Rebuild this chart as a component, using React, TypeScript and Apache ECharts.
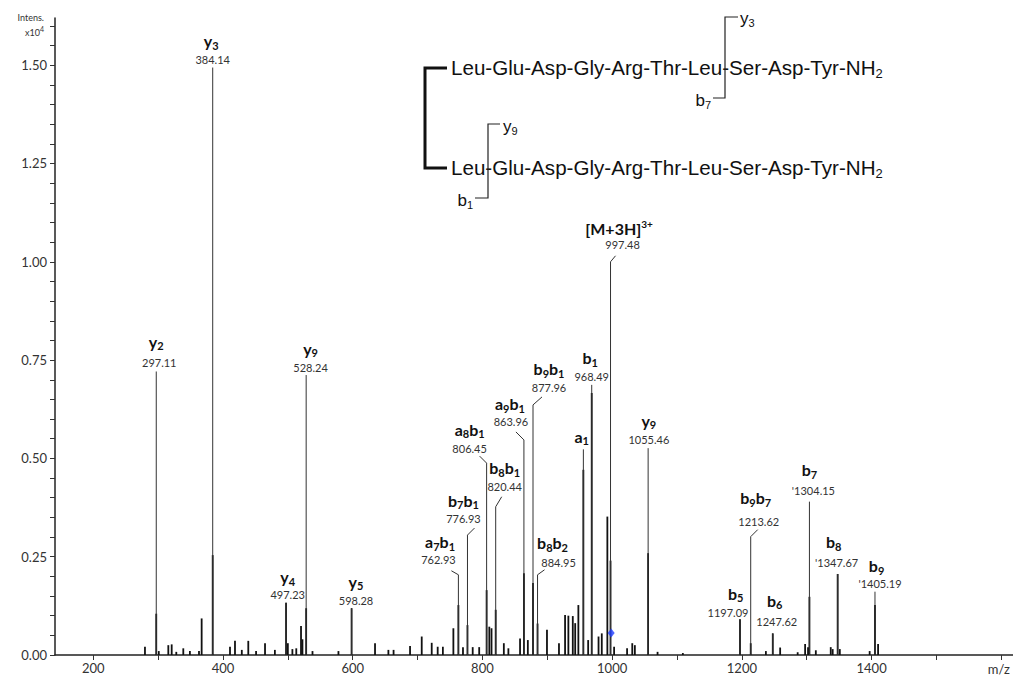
import { useEffect, useRef } from 'react';
import * as echarts from 'echarts';

// ---- axis ticks / labels ----
const xTickValues = [200, 300, 400, 500, 600, 700, 800, 900, 1000, 1100, 1200, 1300, 1400, 1500, 1600];
const xLabelValues = [200, 400, 600, 800, 1000, 1200, 1400];
const yTickValues = [0, 0.05, 0.1, 0.15, 0.2, 0.25, 0.3, 0.35, 0.4, 0.45, 0.5, 0.55, 0.6, 0.65, 0.7, 0.75, 0.8, 0.85, 0.9, 0.95, 1.0, 1.05, 1.1, 1.15, 1.2, 1.25, 1.3, 1.35, 1.4, 1.45, 1.5, 1.55, 1.6];
const yLabelValues = [0, 0.25, 0.5, 0.75, 1.0, 1.25, 1.5];

// ---- spectrum peaks: m/z and intensity (x10^4) ----
const peakMz = [279.7, 297.11, 301, 315.7, 320.9, 328, 338.8, 349, 363, 367.1, 384.14, 410.8, 418.5, 429, 439, 451, 464.8, 480, 497.23, 500, 507, 513, 520.3, 522.5, 528.24, 538, 578, 598.28, 634.4, 655, 663, 688.4, 706.4, 721.8, 731, 739, 755.2, 762.93, 770, 776.93, 785, 795, 806.45, 810.6, 814, 820.44, 833, 840, 858, 863.96, 870, 877.96, 884.95, 899.5, 918, 927.4, 932.5, 939.3, 943, 947.9, 955.6, 963, 968.49, 979, 984, 992.6, 997.48, 1003, 1023, 1031, 1035, 1055.46, 1070, 1109, 1197.09, 1213.62, 1237, 1247.62, 1259, 1286, 1297.5, 1302, 1304.15, 1314, 1337, 1340, 1347.67, 1351, 1397, 1405.19, 1410];
const peakIntensity = [0.021, 0.105, 0.01, 0.025, 0.027, 0.008, 0.017, 0.01, 0.01, 0.093, 0.254, 0.021, 0.036, 0.013, 0.036, 0.01, 0.03, 0.013, 0.133, 0.03, 0.015, 0.017, 0.074, 0.04, 0.119, 0.01, 0.01, 0.119, 0.03, 0.013, 0.013, 0.023, 0.047, 0.031, 0.021, 0.021, 0.068, 0.127, 0.02, 0.076, 0.02, 0.02, 0.165, 0.072, 0.068, 0.115, 0.03, 0.017, 0.042, 0.208, 0.038, 0.183, 0.08, 0.064, 0.03, 0.102, 0.1, 0.099, 0.081, 0.127, 0.471, 0.038, 0.666, 0.047, 0.055, 0.352, 0.24, 0.021, 0.017, 0.03, 0.025, 0.259, 0.008, 0.005, 0.091, 0.03, 0.01, 0.055, 0.019, 0.007, 0.028, 0.02, 0.148, 0.012, 0.02, 0.015, 0.206, 0.015, 0.01, 0.127, 0.028];

// ---- annotated ions ----
const ionMz = [297.11, 384.14, 497.23, 528.24, 598.28, 762.93, 776.93, 806.45, 820.44, 863.96, 877.96, 884.95, 955.6, 968.49, 997.48, 1055.46, 1197.09, 1213.62, 1247.62, 1304.15, 1347.67, 1405.19];
const ionLabelHeight = [0.721, 1.494, 0.133, 0.712, 0.119, 0.204, 0.305, 0.488, 0.377, 0.547, 0.636, 0.204, 0.523, 0.687, 1.0, 0.526, 0.091, 0.301, 0.055, 0.39, 0.206, 0.161];
const ionNames = ['y2', 'y3', 'y4', 'y9', 'y5', 'a7b1', 'b7b1', 'a8b1', 'b8b1', 'a9b1', 'b9b1', 'b8b2', 'a1', 'b1', '[M+3H]3+', 'y9', 'b5', 'b9b7', 'b6', 'b7', 'b8', 'b9'];
const ionNumbers = ['297.11', '384.14', '497.23', '528.24', '598.28', '762.93', '776.93', '806.45', '820.44', '863.96', '877.96', '884.95', '', '968.49', '997.48', '1055.46', '1197.09', '1213.62', '1247.62', "'1304.15", "'1347.67", "'1405.19"];

// precursor marker
const precursorMz = [998.5];
const precursorIntensity = [0.056];

// ---- label layout (pixel offsets: bend, number, name relative to number) ----
const labelLayout = [
  { bx: 0, by: 0, nx: 3, ny: -9, tx: -3, ty: -21 },
  { bx: 0, by: 0, nx: 0, ny: -8, tx: -1.5, ty: -19 },
  { bx: 0, by: 0, nx: 1.6, ny: -8, tx: 0, ty: -18 },
  { bx: 0, by: 0, nx: 4.4, ny: -8, tx: 0, ty: -19 },
  { bx: 0, by: 0, nx: 4.4, ny: -8, tx: 0, ty: -19 },
  { bx: -7, by: -4, nx: -20, ny: -15, tx: 1.7, ty: -18 },
  { bx: 7, by: -7, nx: -4, ny: -17, tx: 0, ty: -18 },
  { bx: -7, by: -7, nx: -17, ny: -15, tx: 0, ty: -19 },
  { bx: 6, by: -10, nx: 9, ny: -20, tx: 0, ty: -19 },
  { bx: -8, by: -8, nx: -13, ny: -18, tx: -1, ty: -18 },
  { bx: 9, by: -8, nx: 16, ny: -17, tx: 0, ty: -19 },
  { bx: 7, by: -5, nx: 21, ny: -12, tx: -6, ty: -20 },
  { bx: 0, by: 0, nx: -1.6, ny: 7, tx: 0, ty: -20 },
  { bx: 0, by: 0, nx: 0, ny: -8, tx: -1.6, ty: -19 },
  { bx: 5, by: -6, nx: 12, ny: -17, tx: -3.5, ty: -16 },
  { bx: 0, by: 0, nx: 0.7, ny: -9, tx: 0, ty: -19 },
  { bx: 0, by: 0, nx: -12, ny: -7, tx: 7.7, ty: -19 },
  { bx: 7, by: -7, nx: 8, ny: -15, tx: -3, ty: -24 },
  { bx: 0, by: 0, nx: 4, ny: -12, tx: -2, ty: -21 },
  { bx: 0, by: 0, nx: 4, ny: -11, tx: -4, ty: -21 },
  { bx: 0, by: 0, nx: -1, ny: -11, tx: -3, ty: -21 },
  { bx: 0, by: 0, nx: 5, ny: -8, tx: -3.4, ty: -18 },
];

const LABEL_FONT = 'Lato';

function toRich(name: string): string {
  if (name.startsWith('[')) {
    const m = name.match(/^(\[.*\])(.*)$/);
    if (m) return `{n|${m[1]}}{p|${m[2]}}`;
  }
  let out = '';
  const re = /([a-zA-Z]+)(\d+)/g;
  let m: RegExpExecArray | null;
  while ((m = re.exec(name)) !== null) {
    out += `{n|${m[1]}}{s|${m[2]}}`;
  }
  return out;
}

export default function App() {
  const ref = useRef<HTMLDivElement>(null);
  useEffect(() => {
    if (!ref.current) return;
    const chart = echarts.init(ref.current, undefined, { renderer: 'svg' });

    const spectrum = peakMz.map((m, i) => [m, peakIntensity[i]]);
    const ions = ionMz.map((m, i) => [m, ionLabelHeight[i], i]);
    const precursor = precursorMz.map((m, i) => [m, precursorIntensity[i]]);

    const nameRich = {
      n: { fontSize: 16, fontWeight: 'bold', fontFamily: LABEL_FONT, fill: '#111', lineHeight: 20, verticalAlign: 'middle' },
      s: { fontSize: 11, fontWeight: 'bold', fontFamily: LABEL_FONT, fill: '#111', lineHeight: 10, verticalAlign: 'bottom' },
      p: { fontSize: 10, fontWeight: 'bold', fontFamily: LABEL_FONT, fill: '#111', lineHeight: 10, verticalAlign: 'top' },
    };

    const pepRich = {
      a: { fontSize: 20.6, fontFamily: 'Liberation Sans', fill: '#111', lineHeight: 26, verticalAlign: 'middle' },
      s: { fontSize: 13, fontFamily: 'Liberation Sans', fill: '#111', lineHeight: 12, verticalAlign: 'bottom' },
    };
    const fragRich = {
      a: { fontSize: 17, fontFamily: 'Liberation Sans', fill: '#111', lineHeight: 20, verticalAlign: 'middle' },
      s: { fontSize: 11, fontFamily: 'Liberation Sans', fill: '#111', lineHeight: 9, verticalAlign: 'bottom' },
    };
    const peptide = '{a|Leu-Glu-Asp-Gly-Arg-Thr-Leu-Ser-Asp-Tyr-NH}{s|2}';

    const option: any = {
      animation: false,
      backgroundColor: '#ffffff',
      grid: { left: 55, right: 0, top: 18, bottom: 21, containLabel: false },
      xAxis: {
        type: 'value',
        min: 141,
        max: 1618,
        axisLine: { show: true, onZero: false, lineStyle: { color: '#222', width: 1.5 } },
        axisTick: { show: true, customValues: xTickValues, length: 5, lineStyle: { color: '#333', width: 1 } },
        axisLabel: {
          customValues: xLabelValues,
          formatter: (v: number) => String(Math.round(v)),
          fontSize: 13,
          color: '#333',
          margin: 6,
          fontFamily: LABEL_FONT,
        },
        splitLine: { show: false },
      },
      yAxis: {
        type: 'value',
        min: 0,
        max: 1.62,
        axisLine: { show: true, lineStyle: { color: '#222', width: 1.5 } },
        axisTick: { show: true, customValues: yTickValues, length: 5, lineStyle: { color: '#333', width: 1 } },
        axisLabel: {
          customValues: yLabelValues,
          formatter: (v: number) => v.toFixed(2),
          fontSize: 13,
          color: '#333',
          margin: 8,
          fontFamily: LABEL_FONT,
        },
        splitLine: { show: false },
      },
      series: [
        {
          type: 'custom',
          name: 'spectrum',
          data: spectrum,
          encode: { x: 0, y: 1 },
          clip: true,
          renderItem: (_params: any, api: any) => {
            const mz = api.value(0);
            const h = api.value(1);
            const p0 = api.coord([mz, 0]);
            const p1 = api.coord([mz, h]);
            return {
              type: 'line',
              shape: { x1: p0[0], y1: p0[1], x2: p1[0], y2: p1[1] },
              style: { stroke: '#111', lineWidth: 1.8, fill: 'none' },
            };
          },
        },
        {
          type: 'custom',
          name: 'annotations',
          data: ions,
          encode: { x: 0, y: 1 },
          clip: false,
          z: 3,
          renderItem: (params: any, api: any) => {
            const i = params.dataIndex;
            const mz = api.value(0);
            const top = api.value(1);
            const base = api.coord([mz, 0]);
            const p = api.coord([mz, top]);
            const L = labelLayout[i];
            const q = [p[0] + L.bx, p[1] + L.by];
            const nX = p[0] + L.nx;
            const nY = p[1] + L.ny;
            const children: any[] = [
              {
                type: 'polyline',
                shape: { points: [[base[0], base[1]], [p[0], p[1]], q] },
                style: { stroke: '#333', lineWidth: 1, fill: 'none' },
              },
            ];
            if (ionNumbers[i]) {
              children.push({
                type: 'text',
                x: nX,
                y: nY,
                style: {
                  text: ionNumbers[i],
                  fontSize: 11,
                  fontFamily: LABEL_FONT,
                  fill: '#333',
                  align: 'center',
                  verticalAlign: 'middle',
                },
              });
            }
            children.push({
              type: 'text',
              x: nX + L.tx,
              y: nY + L.ty,
              style: {
                text: toRich(ionNames[i]),
                rich: nameRich,
                align: 'center',
                verticalAlign: 'middle',
              },
            });
            return { type: 'group', children };
          },
        },
        {
          type: 'scatter',
          name: 'precursor',
          data: precursor,
          symbol: 'diamond',
          symbolSize: [7, 9],
          itemStyle: { color: '#1e3cff' },
          z: 4,
        },
      ],
      graphic: [
        {
          type: 'text',
          x: 44,
          y: 17,
          style: { text: 'Intens.', fontSize: 9, fontFamily: LABEL_FONT, fill: '#333', align: 'right', verticalAlign: 'middle' },
        },
        {
          type: 'text',
          x: 44,
          y: 31,
          style: {
            text: '{a|x10}{b|4}',
            align: 'right',
            verticalAlign: 'middle',
            rich: {
              a: { fontSize: 9, fontFamily: LABEL_FONT, fill: '#333', lineHeight: 12, verticalAlign: 'bottom' },
              b: { fontSize: 7, fontFamily: LABEL_FONT, fill: '#333', lineHeight: 7, verticalAlign: 'top' },
            },
          },
        },
        {
          type: 'text',
          x: 1010,
          y: 669,
          style: { text: 'm/z', fontSize: 13, fontFamily: LABEL_FONT, fill: '#333', align: 'right', verticalAlign: 'middle' },
        },
        // peptide diagram
        {
          type: 'polyline',
          shape: { points: [[447, 68], [425, 68], [425, 168], [447, 168]] },
          style: { stroke: '#111', lineWidth: 3, fill: 'none' },
        },
        {
          type: 'text',
          x: 451,
          y: 67,
          style: { text: peptide, rich: pepRich, align: 'left', verticalAlign: 'middle' },
        },
        {
          type: 'text',
          x: 451,
          y: 167,
          style: { text: peptide, rich: pepRich, align: 'left', verticalAlign: 'middle' },
        },
        {
          type: 'polyline',
          shape: { points: [[738, 17], [725, 17], [725, 98], [713, 98]] },
          style: { stroke: '#222', lineWidth: 1.2, fill: 'none' },
        },
        {
          type: 'text',
          x: 740,
          y: 18,
          style: { text: '{a|y}{s|3}', rich: fragRich, align: 'left', verticalAlign: 'middle' },
        },
        {
          type: 'text',
          x: 711,
          y: 100,
          style: { text: '{a|b}{s|7}', rich: fragRich, align: 'right', verticalAlign: 'middle' },
        },
        {
          type: 'polyline',
          shape: { points: [[500, 124], [488, 124], [488, 198], [475, 198]] },
          style: { stroke: '#222', lineWidth: 1.2, fill: 'none' },
        },
        {
          type: 'text',
          x: 503,
          y: 126,
          style: { text: '{a|y}{s|9}', rich: fragRich, align: 'left', verticalAlign: 'middle' },
        },
        {
          type: 'text',
          x: 473,
          y: 200,
          style: { text: '{a|b}{s|1}', rich: fragRich, align: 'right', verticalAlign: 'middle' },
        },
      ],
    };

    chart.setOption(option);
    return () => {
      chart.dispose();
    };
  }, []);

  return (
    <div
      ref={ref}
      style={{ position: 'fixed', left: 0, top: 0, width: 1013, height: 676, background: '#fff' }}
    />
  );
}
